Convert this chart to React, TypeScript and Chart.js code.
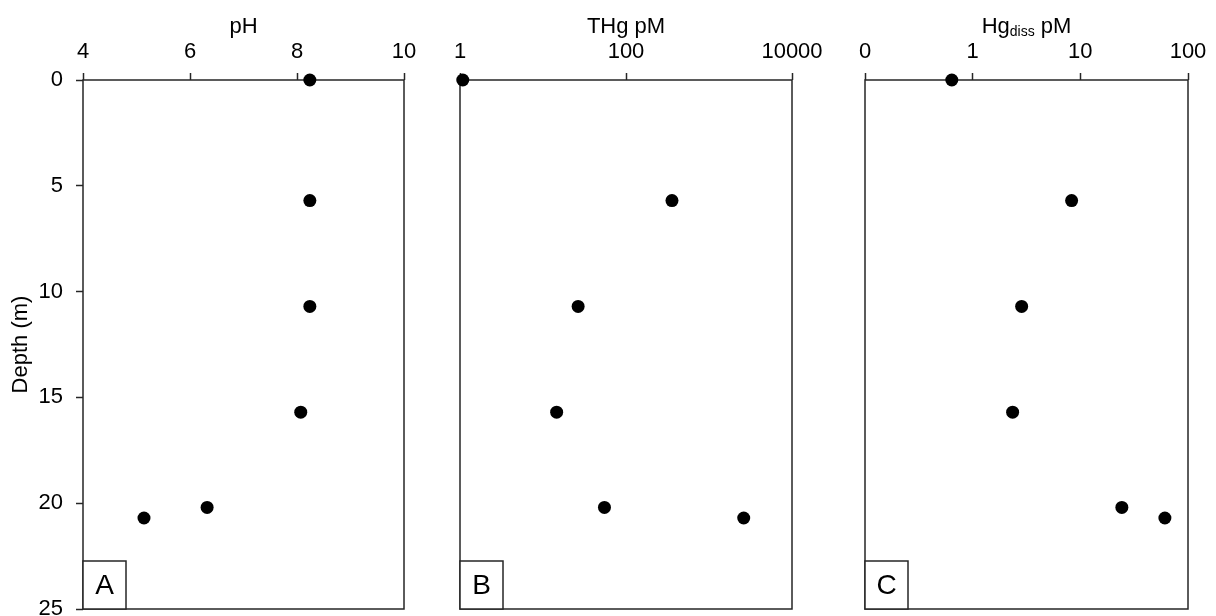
import React, { useEffect, useRef } from "react";
import { Chart, registerables } from "chart.js";

Chart.register(...registerables);

// Sampling depths (m), shared by all three profiles
const depthM = [0, 5.7, 10.7, 15.7, 20.2, 20.7];

// Profile values at each depth
const pHValues = [8.24, 8.24, 8.24, 8.07, 6.32, 5.14];
const tHgPM = [1.08, 358, 26.5, 14.6, 55, 2620];
const hgDissPM = [0.64, 8.3, 2.85, 2.35, 24.3, 61];

// Tick values and labels
const depthTicks = [0, 5, 10, 15, 20, 25];
const pHTicks = [4, 6, 8, 10];
const pHTickLabels = ["4", "6", "8", "10"];
const tHgTicks = [1, 100, 10000];
const tHgTickLabels = ["1", "100", "10000"];
const hgDissTicks = [0.1, 1, 10, 100];
const hgDissTickLabels = ["0", "1", "10", "100"];

const W = 1216;
const H = 616;
const PLOT_TOP = 80;
const PLOT_BOTTOM = 609;
const FONT = "'Liberation Sans', Arial, Helvetica, sans-serif";
const INK = "#000000";
const LINE = "#262626";

type TitlePart = { text: string; sub?: boolean };

type PanelSpec = {
  letter: string;
  title: TitlePart[];
  values: number[];
  xType: "linear" | "logarithmic";
  xMin: number;
  xMax: number;
  xTicks: number[];
  xLabels: string[];
  left: number;
  right: number;
  depthAxis: boolean;
};

const panels: PanelSpec[] = [
  {
    letter: "A",
    title: [{ text: "pH" }],
    values: pHValues,
    xType: "linear",
    xMin: 4,
    xMax: 10,
    xTicks: pHTicks,
    xLabels: pHTickLabels,
    left: 83,
    right: 404,
    depthAxis: true,
  },
  {
    letter: "B",
    title: [{ text: "THg pM" }],
    values: tHgPM,
    xType: "logarithmic",
    xMin: 1,
    xMax: 10000,
    xTicks: tHgTicks,
    xLabels: tHgTickLabels,
    left: 460,
    right: 792,
    depthAxis: false,
  },
  {
    letter: "C",
    title: [{ text: "Hg" }, { text: "diss", sub: true }, { text: " pM" }],
    values: hgDissPM,
    xType: "logarithmic",
    xMin: 0.1,
    xMax: 100,
    xTicks: hgDissTicks,
    xLabels: hgDissTickLabels,
    left: 865,
    right: 1188,
    depthAxis: false,
  },
];

// Frame, panel letter box and top title (with subscript support)
const panelDecor = {
  id: "panelDecor",
  beforeDatasetsDraw(chart: any, _args: any, opts: any) {
    const { ctx, chartArea } = chart;
    const { left, right, top, bottom } = chartArea;
    ctx.save();
    ctx.strokeStyle = LINE;
    ctx.lineWidth = 1.5;
    ctx.strokeRect(left, top, right - left, bottom - top);

    // letter box in the lower-left corner
    const bw = 43;
    const bh = 48;
    ctx.fillStyle = "#ffffff";
    ctx.fillRect(left, bottom - bh, bw, bh);
    ctx.strokeRect(left, bottom - bh, bw, bh);
    ctx.fillStyle = INK;
    ctx.font = `28px ${FONT}`;
    ctx.textAlign = "center";
    ctx.textBaseline = "middle";
    ctx.fillText(opts.letter, left + bw / 2, bottom - bh / 2 + 1);
    ctx.restore();
  },
  afterDraw(chart: any, _args: any, opts: any) {
    const { ctx, chartArea } = chart;
    const parts: TitlePart[] = opts.title || [];
    const mainFont = `22px ${FONT}`;
    const subFont = `14px ${FONT}`;
    ctx.save();
    let total = 0;
    const widths = parts.map((p) => {
      ctx.font = p.sub ? subFont : mainFont;
      const w = ctx.measureText(p.text).width;
      total += w;
      return w;
    });
    let x = (chartArea.left + chartArea.right) / 2 - total / 2;
    const baseline = 32.5;
    ctx.fillStyle = INK;
    ctx.textAlign = "left";
    ctx.textBaseline = "alphabetic";
    parts.forEach((p, i) => {
      ctx.font = p.sub ? subFont : mainFont;
      ctx.fillText(p.text, x, p.sub ? baseline + 3 : baseline);
      x += widths[i];
    });
    ctx.restore();
  },
};

function buildChart(canvas: HTMLCanvasElement, p: PanelSpec) {
  const tickGrid = {
    display: true,
    drawOnChartArea: false,
    drawTicks: true,
    tickLength: 7,
    tickColor: LINE,
    tickWidth: 1.5,
  };
  return new Chart(canvas, {
    type: "scatter",
    data: {
      datasets: [
        {
          data: depthM.map((d, i) => ({ x: p.values[i], y: d })),
          pointRadius: 6.5,
          pointHoverRadius: 6.5,
          backgroundColor: INK,
          borderWidth: 0,
          showLine: false,
          clip: false as any,
        },
      ],
    },
    options: {
      animation: false,
      responsive: false,
      devicePixelRatio: 1,
      events: [],
      layout: {
        padding: {
          left: p.depthAxis ? 0 : p.left,
          right: W - p.right,
          top: 0,
          bottom: H - PLOT_BOTTOM,
        },
      },
      plugins: {
        legend: { display: false },
        tooltip: { enabled: false },
        panelDecor: { letter: p.letter, title: p.title },
      } as any,
      scales: {
        x: {
          type: p.xType,
          position: "top",
          min: p.xMin,
          max: p.xMax,
          afterBuildTicks: (s: any) => {
            s.ticks = p.xTicks.map((v) => ({ value: v }));
          },
          afterFit: (s: any) => {
            s.height = PLOT_TOP;
            s.paddingLeft = 0;
            s.paddingRight = 0;
          },
          ticks: {
            autoSkip: false,
            maxRotation: 0,
            padding: 8,
            color: INK,
            font: { family: FONT, size: 22 },
            callback: (_v: any, i: number) => p.xLabels[i],
          },
          grid: tickGrid,
          border: { display: false },
        } as any,
        y: {
          type: "linear",
          display: p.depthAxis,
          reverse: true,
          min: 0,
          max: 25,
          afterBuildTicks: (s: any) => {
            s.ticks = depthTicks.map((v) => ({ value: v }));
          },
          afterFit: (s: any) => {
            if (p.depthAxis) s.width = p.left;
            s.paddingTop = 0;
            s.paddingBottom = 0;
          },
          ticks: {
            autoSkip: false,
            padding: 13,
            color: INK,
            font: { family: FONT, size: 22 },
            callback: (v: any) => String(v),
          },
          title: {
            display: true,
            text: "Depth (m)",
            color: INK,
            font: { family: FONT, size: 22 },
            padding: { top: 8, bottom: 0 },
          },
          grid: tickGrid,
          border: { display: false },
        } as any,
      },
    },
    plugins: [panelDecor],
  });
}

export default function App() {
  const refs = [
    useRef<HTMLCanvasElement>(null),
    useRef<HTMLCanvasElement>(null),
    useRef<HTMLCanvasElement>(null),
  ];

  useEffect(() => {
    const charts = panels.map((p, i) => buildChart(refs[i].current!, p));
    return () => charts.forEach((c) => c.destroy());
  }, []);

  return (
    <div
      style={{
        position: "absolute",
        left: 0,
        top: 0,
        width: W,
        height: H,
        background: "#ffffff",
      }}
    >
      {panels.map((p, i) => (
        <canvas
          key={p.letter}
          ref={refs[i]}
          width={W}
          height={H}
          style={{ position: "absolute", left: 0, top: 0, width: W, height: H }}
        />
      ))}
    </div>
  );
}
